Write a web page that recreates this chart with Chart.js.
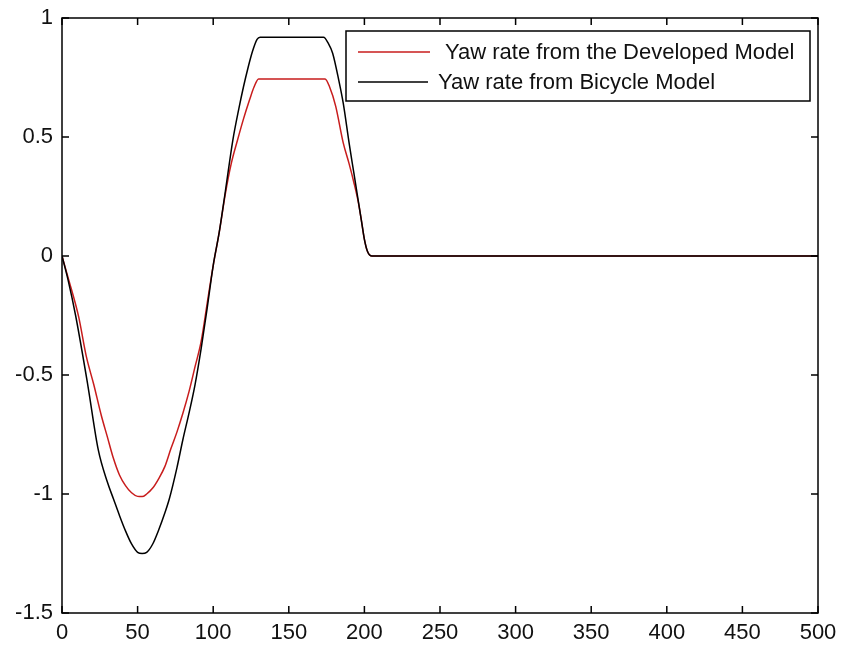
<!DOCTYPE html>
<html>
<head>
<meta charset="utf-8">
<script src="https://cdn.jsdelivr.net/npm/chart.js@4.4.1/dist/chart.umd.min.js"></script>
<style>
  html, body { margin: 0; padding: 0; background: #fff; }
  #wrap { width: 841px; height: 648px; }
</style>
</head>
<body>
<div id="wrap"><canvas id="yawChart" width="841" height="648"></canvas></div>
<script>
/* yaw rate comparison: developed model vs bicycle model */

const bicycleT   = [0, 4, 9, 17, 24, 30, 34, 38, 42, 46, 50, 53, 56, 60, 64, 68, 71, 76, 80, 84, 88, 92, 96, 100, 104, 108, 113, 117, 120, 123, 126, 129, 131, 173, 176, 179, 183, 186, 190, 193, 196, 198, 200, 202, 205, 500];
const bicycleYaw = [0, -0.10, -0.25, -0.54, -0.815, -0.95, -1.02, -1.09, -1.155, -1.21, -1.245, -1.25, -1.245, -1.21, -1.15, -1.08, -1.02, -0.89, -0.77, -0.66, -0.54, -0.39, -0.22, -0.04, 0.10, 0.27, 0.487, 0.62, 0.71, 0.79, 0.86, 0.91, 0.919, 0.919, 0.895, 0.852, 0.74, 0.642, 0.47, 0.35, 0.23, 0.15, 0.07, 0.02, 0, 0];

const developedT   = [0, 4, 11, 16, 21, 26, 30, 34, 38, 42, 46, 50, 53, 56, 60, 64, 68, 72, 76, 80, 84, 88, 92, 96, 100, 104, 108, 112, 116, 120, 124, 127, 130, 174, 177, 181, 186, 190, 193, 196, 198, 200, 202, 205, 500];
const developedYaw = [0, -0.09, -0.255, -0.42, -0.54, -0.67, -0.76, -0.85, -0.92, -0.965, -0.995, -1.01, -1.011, -1.0, -0.975, -0.935, -0.885, -0.81, -0.74, -0.66, -0.57, -0.465, -0.36, -0.2, -0.04, 0.10, 0.26, 0.39, 0.485, 0.575, 0.655, 0.71, 0.744, 0.744, 0.71, 0.63, 0.475, 0.385, 0.31, 0.225, 0.15, 0.07, 0.02, 0, 0];

const xTicks = [0, 50, 100, 150, 200, 250, 300, 350, 400, 450, 500];
const yTicks = [-1.5, -1, -0.5, 0, 0.5, 1];

const toPoints = (xs, ys) => xs.map((x, i) => ({ x, y: ys[i] }));

const FONT = { family: '"Liberation Sans", Arial, sans-serif', size: 22 };
const TICK_LEN = 7;

// box + inward ticks on all four sides, drawn from the scales
const axesFrame = {
  id: 'axesFrame',
  afterDatasetsDraw(chart) {
    const { ctx, chartArea: a, scales: { x, y } } = chart;
    ctx.save();
    ctx.strokeStyle = '#000';
    ctx.lineWidth = 1.5;
    ctx.strokeRect(a.left, a.top, a.right - a.left, a.bottom - a.top);
    ctx.beginPath();
    xTicks.forEach(v => {
      const px = x.getPixelForValue(v);
      ctx.moveTo(px, a.bottom); ctx.lineTo(px, a.bottom - TICK_LEN);
      ctx.moveTo(px, a.top);    ctx.lineTo(px, a.top + TICK_LEN);
    });
    yTicks.forEach(v => {
      const py = y.getPixelForValue(v);
      ctx.moveTo(a.left, py);  ctx.lineTo(a.left + TICK_LEN, py);
      ctx.moveTo(a.right, py); ctx.lineTo(a.right - TICK_LEN, py);
    });
    ctx.stroke();
    ctx.restore();
  }
};

// boxed legend in the upper right corner
const boxLegend = {
  id: 'boxLegend',
  afterDraw(chart) {
    const { ctx } = chart;
    const box = { x: 346, y: 31, w: 464, h: 70 };
    const rows = [
      { y: 52, lineEnd: 430, textX: 445 },
      { y: 82, lineEnd: 428, textX: 438 }
    ];
    ctx.save();
    ctx.fillStyle = '#fff';
    ctx.fillRect(box.x, box.y, box.w, box.h);
    ctx.strokeStyle = '#000';
    ctx.lineWidth = 1.5;
    ctx.strokeRect(box.x, box.y, box.w, box.h);
    ctx.font = `${FONT.size}px ${FONT.family}`;
    ctx.textBaseline = 'middle';
    chart.data.datasets.forEach((ds, i) => {
      const r = rows[i];
      ctx.strokeStyle = ds.borderColor;
      ctx.lineWidth = ds.borderWidth;
      ctx.beginPath();
      ctx.moveTo(358, r.y); ctx.lineTo(r.lineEnd, r.y);
      ctx.stroke();
      ctx.fillStyle = '#111';
      ctx.fillText(ds.label, r.textX, r.y + 1);
    });
    ctx.restore();
  }
};

new Chart(document.getElementById('yawChart').getContext('2d'), {
  type: 'line',
  data: {
    datasets: [
      {
        label: 'Yaw rate from the Developed Model',
        data: toPoints(developedT, developedYaw),
        borderColor: '#c81c1c',
        borderWidth: 1.5,
        pointRadius: 0,
        order: 1,
        cubicInterpolationMode: 'monotone'
      },
      {
        label: 'Yaw rate from Bicycle Model',
        data: toPoints(bicycleT, bicycleYaw),
        borderColor: '#000',
        borderWidth: 1.5,
        pointRadius: 0,
        order: 0,
        cubicInterpolationMode: 'monotone'
      }
    ]
  },
  options: {
    responsive: false,
    animation: false,
    devicePixelRatio: 1,
    layout: { padding: { top: 18, right: 23, left: 0, bottom: 0 } },
    plugins: { legend: { display: false }, tooltip: { enabled: false } },
    scales: {
      x: {
        type: 'linear',
        min: 0, max: 500,
        afterBuildTicks: s => { s.ticks = xTicks.map(v => ({ value: v })); },
        afterFit: s => { s.height = 35; s.paddingLeft = 0; s.paddingRight = 0; },
        grid: { display: false, drawTicks: false },
        border: { display: false },
        ticks: { color: '#111', font: FONT, padding: 7, maxRotation: 0, autoSkip: false }
      },
      y: {
        type: 'linear',
        min: -1.5, max: 1,
        afterBuildTicks: s => { s.ticks = yTicks.map(v => ({ value: v })); },
        afterFit: s => { s.width = 62; s.paddingTop = 0; s.paddingBottom = 0; },
        grid: { display: false, drawTicks: false },
        border: { display: false },
        ticks: { color: '#111', font: FONT, padding: 9, callback: v => String(+v.toFixed(1)) }
      }
    }
  },
  plugins: [axesFrame, boxLegend]
});
</script>
</body>
</html>
